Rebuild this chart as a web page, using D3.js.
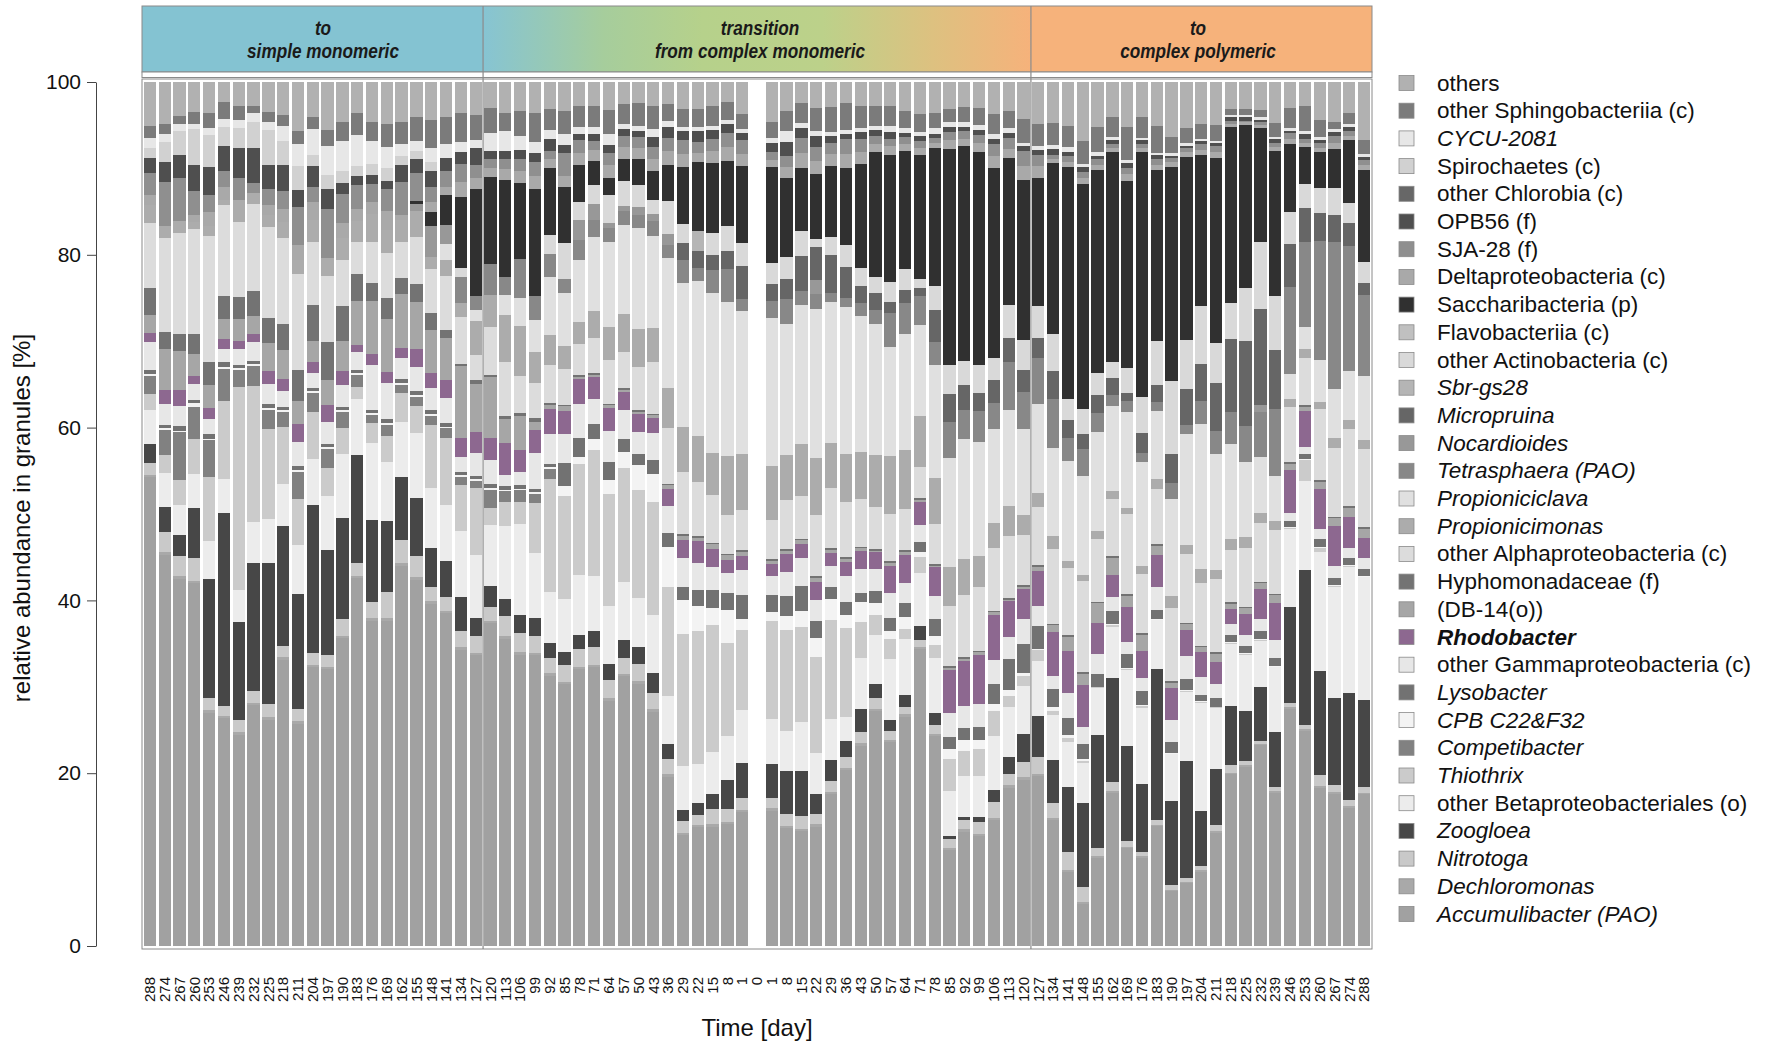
<!DOCTYPE html>
<html>
<head>
<meta charset="utf-8">
<script src="https://cdn.jsdelivr.net/npm/d3@7"></script>
<style>
  body { margin: 0; background: #fff; }
  svg text { font-family: "Liberation Sans", Arial, Helvetica, sans-serif; }
</style>
</head>
<body>
<svg id="chart" width="1765" height="1041"></svg>
<script>
// sampling days: reactor A (288 -> 0) then reactor B (0 -> 288)
const days = [288,274,267,260,253,246,239,232,225,218,211,204,197,190,183,176,169,162,155,148,141,134,127,
  120,113,106,99,92,85,78,71,64,57,50,43,36,29,22,15,8,1,0,1,8,15,22,29,36,43,50,57,64,71,78,85,92,99,106,113,120,
  127,134,141,148,155,162,169,176,183,190,197,204,211,218,225,232,239,246,253,260,267,274,288];

const sectionTitles = [["to", "simple monomeric"], ["transition", "from complex monomeric"], ["to", "complex polymeric"]];
const sectionStarts = [0, 23, 60];

// relative abundances [%], one value per sample (day 0 has no sample)
const accumulibacter = [54.3,45.5,42.7,42.1,27.1,26.5,24.6,28.0,26.3,33.3,25.8,32.4,32.2,35.8,42.7,37.8,37.8,44.2,42.7,39.8,38.7,34.5,33.8,
  37.7,35.9,33.9,33.8,31.5,30.4,32.2,32.4,28.5,31.3,30.7,27.2,20.0,12.9,13.8,13.8,14.4,15.7,0,
  15.7,13.7,13.3,13.8,17.6,20.5,23.4,27.3,23.4,26.7,34.6,24.4,11.2,13.3,12.7,14.6,18.5,19.5,
  19.6,14.6,8.6,4.9,10.3,17.9,11.4,10.3,14.0,6.4,7.3,8.6,13.1,20.0,20.9,23.4,17.9,27.6,25.0,18.3,17.7,16.1,17.7];
const dechloromonas = [0.3,0.3,0.3,0.3,0.3,0.3,0.3,0.3,0.3,0.3,0.3,0.3,0.3,0.3,0.3,0.3,0.3,0.3,0.3,0.3,0.3,0.3,0.3,
  0.3,0.3,0.3,0.3,0.3,0.3,0.3,0.3,0.3,0.3,0.3,0.3,0.3,0.3,0.3,0.3,0.3,0.3,0,
  0.3,0.3,0.3,0.3,0.3,0.3,0.3,0.3,0.3,0.3,0.3,0.3,0.3,0.3,0.3,0.3,0.3,0.3,
  0.2,0.2,0.2,0.2,0.2,0.2,0.2,0.2,0.2,0.2,0.2,0.2,0.2,0.2,0.2,0.2,0.2,0.2,0.2,0.2,0.2,0.2,0.2];
const nitrotoga = [1.4,2.3,2.3,2.6,1.5,1.1,1.4,1.4,1.5,1.3,1.4,1.4,1.4,1.9,1.5,1.9,3.0,2.7,2.5,1.7,1.6,1.9,2.0,
  1.6,2.3,2.2,2.0,1.8,1.9,2.1,2.0,2.1,1.8,2.0,1.9,1.8,1.4,1.2,1.7,1.5,1.3,0,
  1.2,1.3,1.5,1.2,1.3,1.3,1.3,1.3,1.0,0.8,0.8,1.0,1.0,1.0,1.3,1.8,1.3,1.8,
  2.0,1.8,2.1,1.8,0.9,1.1,0.7,0.5,0.5,0.5,0.4,0.5,0.8,0.9,0.4,0.3,0.5,0.5,0.5,1.3,0.8,0.8,0.7];
const zoogloea = [2.2,3.0,2.5,5.9,13.8,22.5,11.4,14.8,16.4,14.0,13.4,17.2,12.2,11.8,12.5,9.5,8.3,7.4,6.8,4.5,4.2,3.9,2.0,
  2.4,2.0,2.1,2.0,1.7,1.6,1.6,1.9,1.9,2.1,2.0,2.3,1.7,1.3,1.3,1.8,3.4,4.1,0,
  3.9,5.0,5.2,2.3,2.4,1.8,2.7,1.6,1.3,1.5,1.6,1.4,0.4,0.4,0.6,1.5,2.0,3.3,
  4.7,4.9,7.6,9.8,13.2,12.1,11.1,7.9,17.7,9.8,13.6,6.4,6.5,6.9,5.9,6.3,6.4,11.2,17.9,12.1,10.2,12.5,10.1];
const otherBetaproteobacteriales = [3.9,3.9,3.5,3.9,4.4,3.9,3.7,4.8,5.2,4.8,5.7,5.4,6.2,7.4,6.5,9.0,6.8,6.3,7.5,7.0,6.5,7.7,7.4,
  7.2,8.6,10.6,7.6,6.0,6.1,7.0,6.4,6.8,6.7,5.7,6.7,5.7,5.1,4.6,4.9,5.2,6.3,0,
  5.2,4.7,5.7,4.7,4.8,2.8,6.0,5.7,7.0,6.5,6.2,6.4,5.2,4.8,4.8,6.2,5.8,5.6,
  6.3,5.2,5.2,4.7,5.5,6.0,8.8,8.9,5.7,5.5,8.1,12.6,7.0,7.2,6.5,5.4,7.5,9.1,10.4,13.8,12.9,14.7,14.3];
const thiothrix = [1.8,2.1,2.8,4.0,7.5,9.1,23.7,15.8,10.4,6.7,5.4,5.4,3.3,3.0,1.4,2.3,3.1,3.4,3.2,7.3,7.8,5.4,7.8,
  1.9,2.7,2.6,5.8,13.1,12.0,12.9,14.6,13.0,13.3,12.7,13.1,12.9,15.4,15.5,14.6,11.1,9.3,0,
  11.4,11.7,11.0,11.1,11.5,10.4,4.2,2.3,2.3,1.1,1.8,1.6,3.7,2.9,3.1,2.9,1.3,1.1,
  1.2,0.5,0.5,0.3,0.1,0.2,0.2,0.2,0.1,0.1,0.1,0.1,0.1,0.1,0.1,0.1,0.1,0.1,2.4,0.5,0.1,0.1,0.1];
const competibacter = [2.1,2.9,5.6,3.8,4.2,3.7,2.0,2.4,2.3,1.7,3.1,2.2,2.2,1.9,1.4,0.9,1.3,1.0,1.1,1.1,1.1,0.9,0.8,
  2.2,1.3,1.3,1.1,1.2,0,0,0,0,0,0,0,0,0,0,0,0,0,0,
  0,0,0,0,0,0,0,0,0,0,0,0,0,0,0,0,0,0,
  0,0,0,0,0,0,0,0,0,0,0,0,0,0,0,0,0,0,0,0,0,0,0];
const cpbC22F32 = [0.3,0.2,0.2,0.4,0.2,0.2,0.2,0.2,0.2,0.2,0.2,0.2,0.2,0.2,0.2,0.2,0.2,0.2,0.2,0.2,0.2,0.2,0.2,
  0.2,0.2,0.2,0.2,0.2,1.2,0.8,1.3,1.6,1.8,2.9,3.3,4.7,3.9,2.9,2.0,3.9,1.3,0,
  1.1,1.6,1.9,2.2,2.4,1.5,2.3,1.4,0.9,1.5,0.6,1.0,1.2,1.3,1.0,0.8,0.7,0.4,
  0.2,0.5,0.3,0.2,0.1,0.1,0.1,0.1,0.1,0.1,0.1,0.1,0.1,0.1,0.1,0.1,0.1,0.1,0.1,0.1,0.1,0.1,0.1];
const lysobacter = [0.4,0.4,0.5,0.4,0.5,0.6,0.4,0.4,0.5,0.4,0.5,0.4,0.4,0.4,0.4,0.4,0.4,0.4,0.4,0.4,0.4,0.4,0.4,
  0.4,0.4,0.4,0.4,0.4,2.6,2.3,1.8,2.1,1.6,1.3,1.6,1.6,1.5,1.9,2.1,2.0,2.9,0,
  2.0,2.4,2.9,2.0,1.4,1.5,1.1,1.4,1.5,1.6,1.2,2.0,1.4,1.4,1.6,2.4,3.6,3.4,
  2.6,2.0,2.0,1.8,1.5,1.6,1.6,1.6,1.0,1.2,1.3,0.8,1.0,0.9,0.8,1.0,0.9,0.7,0.6,0.9,0.8,0.8,0.8];
const otherGammaproteobacteria = [3.3,2.4,2.4,1.8,1.8,1.5,1.8,2.1,2.3,1.8,2.8,1.8,2.6,2.5,2.0,5.2,4.2,2.5,2.9,2.6,2.9,1.7,2.7,
  2.9,1.3,1.5,4.2,3.5,3.4,3.9,2.9,3.6,3.3,2.6,3.1,3.3,3.4,3.1,2.7,2.3,2.9,0,
  2.1,2.8,3.3,2.4,2.4,3.1,2.8,2.5,2.9,2.3,2.0,2.6,2.8,2.5,2.6,2.8,2.6,2.9,
  2.3,1.6,2.9,1.9,2.3,1.6,1.4,1.6,2.7,2.6,2.6,2.1,1.6,1.2,1.3,1.3,2.1,1.0,0.8,1.2,1.5,1.2,1.3];
const rhodobacter = [1.0,1.7,1.8,1.0,1.3,1.2,0.9,1.0,1.5,1.5,2.1,1.2,1.9,1.7,0.9,1.3,1.3,1.2,2.0,1.8,2.1,2.3,2.4,
  2.5,3.7,2.6,2.6,2.9,2.7,2.9,2.5,2.7,2.1,2.0,1.8,2.0,2.1,2.6,2.0,1.6,1.6,0,
  1.4,2.0,1.6,2.1,1.5,1.6,2.1,2.0,3.1,3.3,2.6,3.4,5.0,5.2,5.7,5.2,4.2,3.6,
  4.0,5.0,4.9,5.0,3.6,2.6,4.1,3.1,3.7,3.8,3.1,2.9,2.6,1.8,2.5,3.6,4.3,5.0,4.2,4.6,4.6,3.6,2.3];
const db14 = [2.1,4.7,4.5,2.5,2.6,2.3,2.6,2.1,3.2,3.3,2.6,2.5,2.9,3.5,5.1,6.2,6.2,6.2,5.5,5.0,4.9,8.3,5.6,
  7.1,2.8,3.9,1.0,0.5,0.5,0.3,0.3,0.3,0.3,0.3,0.3,0.4,0.5,0.3,0.6,0.5,0.5,0,
  0.4,0.4,0.4,0.5,0.4,0.4,0.3,0.2,0.3,0.3,0.3,0.2,0.3,0.3,0.3,0.3,0.2,0.2,
  0.5,0.8,1.6,1.3,2.3,2.0,1.3,1.9,1.1,0.6,0.6,0.5,0.9,0.6,0.6,0.6,0.9,0.7,0.5,0.8,0.9,1.1,1.1];
const hyphomonadaceae = [3.1,2.0,2.0,2.3,2.7,2.7,2.6,2.9,2.9,3.0,3.6,4.2,4.4,4.1,3.1,2.0,2.4,1.9,2.1,1.9,1.0,0.3,0.4,
  0.3,0.4,0.4,0.4,0.2,0.2,0.2,0.2,0.2,0.2,0.2,0.2,0.2,0.2,0.2,0.2,0.2,0.2,0,
  0.2,0.2,0.2,0.2,0.2,0.2,0.2,0.2,0.2,0.2,0.2,0.2,0.2,0.2,0.2,0.2,0.2,0.2,
  0.2,0.2,0.2,0.2,0.2,0.2,0.2,0.2,0.2,0.2,0.2,0.2,0.2,0.2,0.2,0.2,0.2,0.2,0.2,0.2,0.2,0.2,0.2];
const otherAlphaproteobacteria = [7.6,10.9,11.7,12.2,14.7,10.6,8.7,10.1,10.6,10.1,11.2,7.3,7.7,5.3,3.7,4.8,5.2,4.2,5.5,5.2,6.2,5.4,3.0,
  5.6,6.3,4.3,4.1,4.4,4.2,3.6,4.1,5.1,4.2,5.1,6.0,6.6,7.3,6.3,5.5,4.6,4.7,0,
  4.6,5.7,4.9,7.0,7.0,6.4,5.6,4.9,5.4,4.8,3.6,4.6,7.0,7.2,7.4,7.3,7.2,5.9,
  6.7,8.6,7.8,10.6,7.3,6.7,9.3,6.9,6.5,8.5,8.0,7.3,8.5,6.0,6.8,6.8,7.4,6.4,5.5,8.3,8.0,9.0,9.1];
const propionicimonas = [2.0,1.4,1.5,0.8,1.1,0.6,2.6,1.3,1.4,1.8,1.6,2.6,2.1,2.5,2.5,3.3,2.7,2.5,3.1,1.3,1.9,1.7,3.9,
  3.7,5.5,5.8,3.6,3.5,2.6,2.6,3.1,3.8,4.4,4.4,3.9,4.7,5.2,5.4,4.9,7.0,6.6,0,
  6.2,5.3,6.1,6.6,5.2,5.6,5.5,6.0,6.7,6.9,6.0,5.4,4.6,4.2,3.5,2.9,3.5,2.3,
  1.6,1.6,0.8,0.7,1.0,0.9,0.7,0.9,1.1,1.4,1.1,1.6,1.1,1.3,1.3,1.2,1.1,1.0,1.0,0.8,1.1,1.0,1.0];
const propioniciclava = [0,0,0,0,0,0,0,0,0,0,0,0,0,0,0,0,0,0,0,0,1.8,0,1.3,
  0,2.3,3.3,3.7,6.8,6.2,7.2,8.6,9.9,10.3,11.8,10.7,15.3,16.8,18.0,18.5,18.2,16.8,0,
  17.2,15.2,16.1,17.2,16.4,17.2,15.8,15.3,12.5,13.5,10.6,13.1,12.7,14.0,13.2,10.9,11.3,10.1,
  10.2,10.1,11.6,11.7,11.5,9.9,11.3,12.2,8.0,11.4,12.9,16.9,13.4,11.1,8.8,6.6,5.2,2.9,2.6,4.9,5.7,5.7,7.5];
const tetrasphaera = [0,0,0,0,0,0,0,0,0,0,0,0,0,0,0,0,0,0,0,0,0,3.0,1.6,
  3.7,2.1,4.5,2.8,2.6,1.6,2.3,2.0,1.6,1.6,1.5,1.8,1.6,2.6,1.5,2.6,3.9,1.4,0,
  2.0,2.9,1.6,1.8,1.0,1.0,1.6,1.6,3.9,3.6,3.3,2.7,4.2,3.3,3.6,3.1,5.6,4.4,
  5.4,5.7,2.7,3.1,2.3,1.3,1.2,1.0,1.0,1.8,1.0,2.7,2.7,3.7,4.2,5.2,7.8,10.1,9.8,13.8,17.2,14.7,9.4];
const nocardioides = [0,0,0,0,0,0,0,0,0,0,0,0,0,0,0,0,0,0,0.8,3.6,2.3,0,0,
  0,0,0,0,0,0,2.3,1.8,0.6,0.6,1.0,0.8,1.3,0,0,0,0,0,0,
  0,0,0,1.6,0,0,0,0,0,0,0,0,0,0,0,0,0,0,
  0,0,0,0,0,0,0,0,0,0,0,0,0,0,0,0.8,0,0,0,0,0,0,0];
const micropruina = [0,0,0,0,0,0,0,0,0,0,0,0,0,0,0,0,0,0,0,0,0,0,0,
  0,0,0,0,0,0,0,0,0,0,0,0,0,2.0,2.0,1.8,2.1,3.8,0,
  2.0,2.3,4.1,3.8,4.4,3.6,2.0,2.0,1.3,1.6,1.0,3.8,3.3,2.9,2.1,2.6,2.8,2.5,
  2.3,3.3,2.1,1.8,2.0,2.0,1.0,2.3,2.0,3.4,4.2,4.3,5.5,8.6,9.8,11.2,6.9,5.0,4.0,3.2,3.1,2.6,1.4];
const sbrGs28 = [0,0,0,0,0,0,0,0,0,0,0,0,0,0,0,0,0,0,0,0,0,0,0,
  0,0,0,0,0,0,0,0,0,0,0,0,0,0,2.4,0,0,0,0,
  0,0,0,0,0,0,0,0,0,0,0,0,0,0,0,0,0,0,
  0,0,0,0,0,0,0,0,0,0,0,0,0,0,0,0,0,0,0,0,0,0,0];
const otherActinobacteria = [0,0,0,0,0,0,0,0,0,0,0,0,0,0,0,0,0,0,0,0,0,1.0,0,
  0,0,0,0,2.3,4.2,2.1,2.2,3.3,2.9,2.5,1.6,3.9,2.3,0,2.5,3.0,2.7,0,
  2.4,2.6,2.9,1.0,2.1,2.6,2.1,1.8,2.3,2.4,1.0,2.7,3.4,2.8,3.3,2.6,3.8,3.6,
  3.6,4.2,2.4,2.9,2.6,1.9,2.9,4.2,5.2,8.6,5.7,6.8,4.7,4.2,6.2,7.8,6.3,3.8,2.8,2.9,3.1,2.4,2.5];
const flavobacteriia = [0,0,0,0,0,0,0,0,0,0,0,0,0,0,0,0,0,0,0,0,0,0,0,
  0,0,0,0,0,0,0,0,0,0,0,0,0,0,0,0,0,0,0,
  0,0,0,0,0,0,0,0,0,0,0,0,0,0,0,0,0,0,
  0,0,0,0,0,0,0,0,0,0,0,0,0,0,0,0,0,0,0,0,0,0,0];
const saccharibacteria = [0,0,0,0,0,0,0,0,0,0,0,0,0,0,0,0,0,0,0.3,1.7,3.4,8.3,12.4,
  10.1,11.4,8.8,12.4,7.8,6.5,4.3,2.8,1.9,2.6,3.1,3.4,4.2,6.6,8.0,8.1,7.7,9.0,0,
  11.1,9.1,7.3,7.5,8.3,9.0,12.1,14.6,14.6,13.8,14.5,16.1,25.2,25.0,24.6,22.1,17.2,18.7,
  14.8,19.8,26.9,26.3,23.7,24.5,21.8,28.6,20.0,25.0,21.3,17.6,21.5,20.4,19.0,13.3,16.9,7.9,4.2,4.2,4.6,7.3,10.7];
const deltaproteobacteria = [1.2,0,0,0.9,1.7,1.5,0,0,1.2,1.5,1.8,2.0,0,1.8,1.4,1.3,2.2,0.6,0,1.1,1.0,1.8,1.3,
  1.0,1.2,1.5,1.6,1.0,1.3,1.4,1.3,1.6,1.4,1.3,1.4,1.6,1.5,1.0,1.4,1.6,1.5,0,
  0.8,1.3,1.7,1.5,1.3,1.6,1.4,0.9,1.0,0.8,0.8,0.6,1.0,0.9,1.0,1.4,1.1,1.7,
  1.3,0.5,0.6,0.7,0.6,0.5,0.8,0.5,0.6,0.5,0.5,0.6,0.7,0.4,0.3,0.4,0.5,0.6,0.5,0.5,0.7,0.5,0.6];
const sja28 = [2.5,5.2,4.9,2.7,1.9,1.8,2.5,1.2,1.8,2.1,4.4,1.8,5.7,3.4,2.8,2.1,2.6,3.9,3.3,1.8,1.9,2.0,1.6,
  1.1,1.2,1.4,1.6,1.0,2.6,1.6,1.1,1.3,1.2,1.3,1.3,1.6,1.6,1.3,1.4,1.7,1.6,0,
  1.0,1.3,1.8,1.6,1.3,1.7,1.5,0.9,0.9,0.8,0.8,0.6,1.0,0.9,1.0,1.4,1.2,1.7,
  1.3,0.5,0.7,0.7,0.7,0.5,0.8,0.5,0.7,0.5,0.5,0.7,0.7,0.3,0.2,0.3,0.5,0.6,0.5,0.5,0.8,0.6,0.6];
const opb56 = [1.8,2.3,2.7,3.1,3.3,2.9,3.5,4.0,2.9,3.1,2.0,2.4,2.3,1.3,1.0,1.1,0.9,2.0,1.6,1.8,1.5,1.4,1.9,
  1.0,1.0,1.0,1.0,1.3,1.0,0.7,0.8,1.0,0.8,0.7,1.2,1.3,1.1,1.3,1.0,1.0,0.8,0,
  1.0,1.6,1.2,1.3,0.8,0.6,0.8,0.7,0.7,0.5,0.6,0.5,0.6,0.5,0.6,0.6,0.6,0.6,
  0.6,0.6,0.5,0.6,0.4,0.4,0.5,0.4,0.4,0.3,0.3,0.3,0.3,0.5,0.4,0.3,0.4,0.3,0.6,0.4,0.5,0.5,0.4];
const otherChlorobia = [0,0,0,0,0,0,0,0,0,0,0,0,0,0,0,0,0,0,0,0,0,0,0,
  0,0,0,0,0,0,0,0,0,0,0,0,0,0,0,0,0,0,0,
  0,0,0,0,0,0,0,0,0,0,0,0,0,0,0,0,0,0,
  0,0,0,0,0,0,0,0,0,0,0,0,0,0,0,0,0,0,0,0,0,0,0];
const spirochaetes = [1.1,2.3,2.8,4.1,3.7,2.3,2.3,3.0,4.0,2.7,2.7,1.3,1.7,1.3,1.1,1.3,1.5,1.0,1.0,1.1,0,0,0,
  0,0,0,0,0,0,0,0,0,0,0,0,0,0,0,0,0,0,0,
  0,0,0,0,0,0,0,0,0,0,0,0,0,0,0,0,0,0,
  0,0,0,0,0,0,0,0,0,0,0,0,0,0,0,0,0,0,0,0,0,0,0];
const cycu2081 = [1.2,1.0,0.8,0.6,0.9,0.9,1.0,1.1,1.0,1.8,2.6,3.0,3.3,3.5,3.6,2.6,2.4,1.4,1.1,1.6,1.6,1.2,1.0,
  2.0,2.3,1.6,1.3,1.1,1.3,0.8,0.8,1.3,0.6,0.6,1.0,0.7,0.5,0.5,0.5,0.5,0.5,0,
  0.6,1.3,0.5,0.5,0.5,0.5,0.5,0.5,0.7,0.5,0.5,0.6,0.5,0.5,0.5,0.6,0.6,0.4,
  0.4,0.5,0.5,0.4,0.4,0.4,0.4,0.3,0.3,0.3,0.3,0.3,0.3,0.3,0.3,0.3,0.3,0.3,0.3,0.3,0.3,0.3,0.3];
const otherSphingobacteriia = [1.4,1.1,1.0,1.4,1.7,2.0,1.6,0.8,1.1,1.3,1.5,1.4,1.9,2.3,2.6,2.2,2.7,2.6,2.8,3.3,3.1,3.4,2.9,
  3.0,2.1,2.9,3.4,2.5,2.6,2.4,2.4,2.8,2.3,2.6,2.6,2.0,2.1,2.1,2.3,2.1,1.8,0,
  1.8,2.3,2.4,2.7,2.9,3.1,2.6,2.3,2.3,2.0,2.1,1.8,1.5,1.8,2.0,2.3,2.0,2.8,
  2.6,2.5,2.5,2.7,2.9,2.3,3.9,2.4,3.1,1.9,1.8,1.7,1.8,0.7,0.7,0.8,1.6,2.4,2.9,2.0,0.8,1.3,1.6];
const others = [5.1,4.9,3.9,3.5,3.6,2.3,2.8,2.8,3.5,3.8,5.7,4.1,5.6,4.6,3.6,4.7,4.9,4.6,4.1,4.4,4.1,3.6,3.8,
  3.0,3.6,3.4,3.6,3.1,3.4,2.8,2.8,3.2,2.6,2.5,2.8,2.6,3.1,3.1,2.8,2.4,3.7,0,
  4.7,3.4,2.4,3.0,2.9,2.5,2.8,2.8,2.8,3.4,3.7,3.6,3.2,2.9,3.0,3.7,3.4,4.3,
  4.8,4.8,5.1,6.9,5.3,4.1,5.2,4.1,5.2,6.4,5.3,4.9,5.0,3.1,3.1,3.3,4.8,3.0,2.8,4.4,4.7,3.6,6.8];

// stacking order, bottom -> top
const taxa = ["Accumulibacter (PAO)", "Dechloromonas", "Nitrotoga", "Zoogloea", "other Betaproteobacteriales (o)",
  "Thiothrix", "Competibacter", "CPB C22&F32", "Lysobacter", "other Gammaproteobacteria (c)", "Rhodobacter",
  "(DB-14(o))", "Hyphomonadaceae (f)", "other Alphaproteobacteria (c)", "Propionicimonas", "Propioniciclava",
  "Tetrasphaera (PAO)", "Nocardioides", "Micropruina", "Sbr-gs28", "other Actinobacteria (c)", "Flavobacteriia (c)",
  "Saccharibacteria (p)", "Deltaproteobacteria (c)", "SJA-28 (f)", "OPB56 (f)", "other Chlorobia (c)",
  "Spirochaetes (c)", "CYCU-2081", "other Sphingobacteriia (c)", "others"];
const values = [accumulibacter, dechloromonas, nitrotoga, zoogloea, otherBetaproteobacteriales, thiothrix,
  competibacter, cpbC22F32, lysobacter, otherGammaproteobacteria, rhodobacter, db14, hyphomonadaceae,
  otherAlphaproteobacteria, propionicimonas, propioniciclava, tetrasphaera, nocardioides, micropruina, sbrGs28,
  otherActinobacteria, flavobacteriia, saccharibacteria, deltaproteobacteria, sja28, opb56, otherChlorobia,
  spirochaetes, cycu2081, otherSphingobacteriia, others];
const colors = ["#a1a1a1", "#a9a9a9", "#c9c9c9", "#474747", "#ececec", "#cbcbcb", "#818181", "#f3f3f3", "#727272",
  "#e7e7e7", "#8d6890", "#a6a6a6", "#737373", "#dcdcdc", "#acacac", "#e0e0e0", "#888888", "#989898", "#666666",
  "#b5b5b5", "#d9d9d9", "#c0c0c0", "#303030", "#a9a9a9", "#8f8f8f", "#4f4f4f", "#676767", "#d1d1d1", "#e7e7e7",
  "#7b7b7b", "#b1b1b1"];
// 0 = plain, 1 = italic (genus), 2 = bold italic
const labelStyle = [1,1,1,1,0,1,1,1,1,0,2,0,0,0,1,1,1,1,1,1,0,0,0,0,0,0,0,0,1,0,0];

const svg = d3.select("#chart");
const plotLeft = 142, plotRight = 1372, plotTop = 82, plotBottom = 946;

const rows = days.map((d, i) => {
  const r = { idx: i };
  taxa.forEach((t, j) => { r[t] = values[j][i]; });
  return r;
});

const stacked = d3.stack().keys(taxa).offset(d3.stackOffsetExpand)(rows);

const x = d3.scaleBand().domain(d3.range(days.length)).range([plotLeft, plotRight]).paddingInner(0.17).paddingOuter(0.12);
const y = d3.scaleLinear().domain([0, 1]).range([plotBottom, plotTop]);

// section boundaries
const step = x.step();
const bounds = [plotLeft,
  x(sectionStarts[1]) - step * x.paddingInner() / 2,
  x(sectionStarts[2]) - step * x.paddingInner() / 2,
  plotRight];

// header strip
const defs = svg.append("defs");
const grad = defs.append("linearGradient").attr("id", "trans").attr("x1", "0%").attr("x2", "100%");
[["0%", "#86c4d3"], ["22%", "#a6cd9c"], ["40%", "#b6d18b"], ["62%", "#bcd18a"], ["82%", "#ddc180"], ["100%", "#f6b27b"]]
  .forEach(s => grad.append("stop").attr("offset", s[0]).attr("stop-color", s[1]));
const headFill = ["#84c3d2", "url(#trans)", "#f6b27b"];

const headTop = 6, headBottom = 72;
svg.selectAll(".head")
  .data([0, 1, 2])
  .enter().append("rect")
  .attr("x", i => bounds[i]).attr("y", headTop)
  .attr("width", i => bounds[i + 1] - bounds[i]).attr("height", headBottom - headTop)
  .attr("fill", i => headFill[i]);
svg.append("rect").attr("x", plotLeft).attr("y", headTop).attr("width", plotRight - plotLeft).attr("height", headBottom - headTop)
  .attr("fill", "none").attr("stroke", "#8a8a8a").attr("stroke-width", 1);
svg.append("rect").attr("x", plotLeft).attr("y", headBottom).attr("width", plotRight - plotLeft).attr("height", 5.5)
  .attr("fill", "#fff").attr("stroke", "#8a8a8a").attr("stroke-width", 1);

// condensed-looking bold italic titles
const headCenters = [323, 760, 1198];
sectionTitles.forEach((lines, i) => {
  lines.forEach((line, k) => {
    svg.append("text")
      .attr("transform", `translate(${headCenters[i]},${k === 0 ? 28 : 51}) scale(0.86,1)`)
      .attr("text-anchor", "middle").attr("dominant-baseline", "central")
      .attr("font-size", "20px").attr("font-weight", "bold").attr("font-style", "italic")
      .attr("fill", "#1a1a1a")
      .text(line);
  });
});

// stacked bars
const layers = svg.append("g").attr("shape-rendering", "crispEdges");
layers.selectAll("g")
  .data(stacked)
  .enter().append("g")
  .attr("fill", (d, i) => colors[i])
  .selectAll("rect")
  .data(d => d.filter(p => p[1] - p[0] > 0))
  .enter().append("rect")
  .attr("x", p => x(p.data.idx))
  .attr("y", p => y(p[1]))
  .attr("width", x.bandwidth())
  .attr("height", p => y(p[0]) - y(p[1]));

// plot frame and section separators
svg.append("rect").attr("x", plotLeft).attr("y", 79).attr("width", plotRight - plotLeft).attr("height", 949 - 79)
  .attr("fill", "none").attr("stroke", "#8a8a8a").attr("stroke-width", 1);
[bounds[1], bounds[2]].forEach(bx => {
  svg.append("line").attr("x1", bx).attr("x2", bx).attr("y1", headTop).attr("y2", 949)
    .attr("stroke", "#8a8a8a").attr("stroke-width", 1.2);
});

// y axis
const yAxis = svg.append("g")
  .attr("transform", "translate(96,0)")
  .call(d3.axisLeft(y).tickValues([0, 0.2, 0.4, 0.6, 0.8, 1]).tickFormat(d => Math.round(d * 100))
    .tickSize(9).tickSizeOuter(0).tickPadding(6));
yAxis.select(".domain").attr("stroke", "#444");
yAxis.selectAll(".tick line").attr("stroke", "#444");
yAxis.selectAll("text").attr("font-size", "21px").attr("fill", "#111");

svg.append("text")
  .attr("transform", "translate(21,518) rotate(-90)")
  .attr("text-anchor", "middle").attr("dominant-baseline", "central")
  .attr("font-size", "24px").attr("fill", "#111")
  .text("relative abundance in granules [%]");

// x axis labels
const xAxis = svg.append("g")
  .attr("transform", "translate(0,975)")
  .call(d3.axisBottom(x).tickFormat(i => days[i]).tickSize(0).tickPadding(0));
xAxis.select(".domain").remove();
xAxis.selectAll("text")
  .attr("transform", "rotate(-90)")
  .attr("x", -2).attr("y", 0).attr("dy", "0.35em")
  .attr("text-anchor", "end")
  .attr("font-size", "15px").attr("fill", "#111");

svg.append("text")
  .attr("x", 757).attr("y", 1027)
  .attr("text-anchor", "middle").attr("dominant-baseline", "central")
  .attr("font-size", "24px").attr("fill", "#111")
  .text("Time [day]");

// legend, top entry = top of stack
const legendOrder = d3.range(taxa.length).reverse();
const legend = svg.append("g").selectAll("g")
  .data(legendOrder)
  .enter().append("g")
  .attr("transform", (j, k) => `translate(1399,${83 + k * 27.7})`);
legend.append("rect")
  .attr("x", 0).attr("y", -7.5).attr("width", 15).attr("height", 15)
  .attr("fill", j => colors[j]).attr("stroke", "#8a8a8a").attr("stroke-width", 0.8);
legend.append("text")
  .attr("x", 38).attr("y", 0).attr("dominant-baseline", "central")
  .attr("font-size", "22.5px").attr("fill", "#111")
  .attr("font-style", j => labelStyle[j] ? "italic" : "normal")
  .attr("font-weight", j => labelStyle[j] === 2 ? "bold" : "normal")
  .text(j => taxa[j]);
</script>
</body>
</html>
